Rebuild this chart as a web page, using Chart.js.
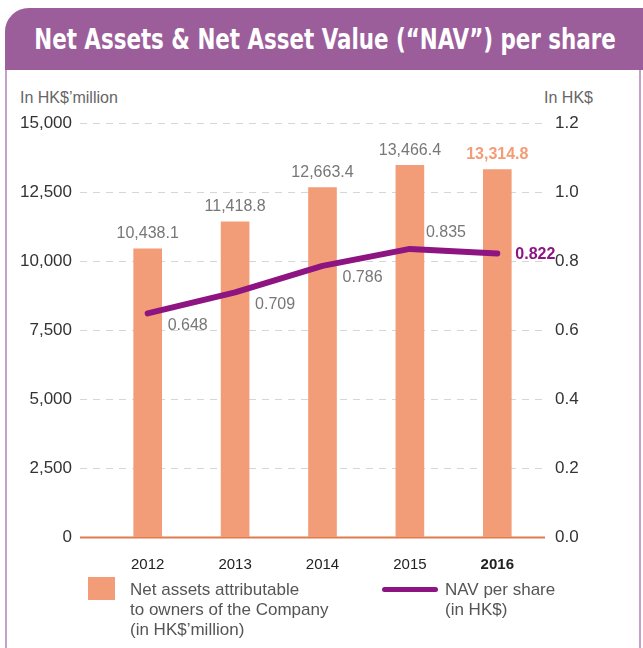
<!DOCTYPE html>
<html>
<head>
<meta charset="utf-8">
<script src="https://cdn.jsdelivr.net/npm/chart.js@4"></script>
<style>
  html, body { margin: 0; padding: 0; background: #fff; }
  body { width: 643px; height: 648px; position: relative; overflow: hidden;
         font-family: "Liberation Sans", Arial, sans-serif; }
  .frame { position: absolute; left: 5px; top: 8px; width: 632px; height: 660px;
           border: 2px solid #c79fcb; border-top: none; border-radius: 24px 0 0 0; }
  .head { position: absolute; left: 5px; top: 8px; width: 638px; height: 62px;
          background: #9c5e9b; border-radius: 24px 0 0 0; overflow: hidden; }
  .head span { position: absolute; left: 320px; top: 0; line-height: 62px; white-space: nowrap;
               color: #fff; font-family: "DejaVu Sans Condensed", "DejaVu Sans", sans-serif;
               font-weight: bold; font-size: 29px; transform: translateX(-50%) scaleX(0.82);
               transform-origin: center; }
  canvas { position: absolute; left: 0; top: 0; }
  .unit { position: absolute; top: 89px; font-size: 16px; color: #666; }
  .legend { position: absolute; font-size: 17px; color: #555; line-height: 20px; }
</style>
</head>
<body>
<div class="frame"></div>
<div class="head"><span>Net Assets &amp; Net Asset Value (“NAV”) per share</span></div>
<div class="unit" style="left:20px">In HK$’million</div>
<div class="unit" style="right:50px">In HK$</div>
<div style="width:643px;height:648px;position:absolute;left:0;top:0">
  <canvas id="c" width="643" height="648"></canvas>
</div>
<div class="legend" style="left:88px;top:577px;width:27px;height:23px;background:#f29d78"></div>
<div class="legend" style="left:130px;top:580px">Net assets attributable<br>to owners of the Company<br>(in HK$’million)</div>
<div class="legend" style="left:382px;top:587px;width:56px;height:5px;background:#8e1482;border-radius:3px"></div>
<div class="legend" style="left:445px;top:580px">NAV per share<br>(in HK$)</div>
<script>
const years = ['2012', '2013', '2014', '2015', '2016'];
const netAssets = [10438.1, 11418.8, 12663.4, 13466.4, 13314.8];
const navPerShare = [0.648, 0.709, 0.786, 0.835, 0.822];
const leftTicks = [0, 2500, 5000, 7500, 10000, 12500, 15000];
const rightTicks = [0.0, 0.2, 0.4, 0.6, 0.8, 1.0, 1.2];

const FONT = '"Liberation Sans", Arial, sans-serif';
const BAR = '#f29d78';
const NAV = '#8e1482';

const gridPlugin = {
  id: 'grid',
  beforeDatasetsDraw(chart) {
    const ctx = chart.ctx;
    const y = chart.scales.y;
    const x0 = chart.chartArea.left - 24, x1 = chart.chartArea.right + 4;
    ctx.save();
    leftTicks.forEach(v => {
      const py = Math.round(y.getPixelForValue(v)) + 0.5;
      ctx.beginPath();
      if (v === 0) {
        ctx.setLineDash([]);
        ctx.strokeStyle = '#e07b4e';
        ctx.lineWidth = 2;
      } else {
        ctx.setLineDash([7, 6]);
        ctx.strokeStyle = '#d6d6d6';
        ctx.lineWidth = 1;
      }
      ctx.moveTo(x0, py);
      ctx.lineTo(x1, py);
      ctx.stroke();
    });
    ctx.restore();
  }
};

const labelPlugin = {
  id: 'labels',
  afterDatasetsDraw(chart) {
    const ctx = chart.ctx;
    ctx.save();
    const bars = chart.getDatasetMeta(1).data;
    bars.forEach((b, i) => {
      const last = i === bars.length - 1;
      ctx.font = (last ? 'bold ' : '') + '16px ' + FONT;
      ctx.fillStyle = last ? '#f29d78' : '#777';
      ctx.textAlign = 'center';
      ctx.textBaseline = 'bottom';
      ctx.fillText(netAssets[i].toLocaleString('en-US', {minimumFractionDigits: 1}), b.x, b.y - 7);
    });
    const pts = chart.getDatasetMeta(0).data;
    pts.forEach((p, i) => {
      const last = i === pts.length - 1;
      ctx.font = (last ? 'bold ' : '') + '16px ' + FONT;
      ctx.fillStyle = last ? NAV : '#777';
      ctx.textAlign = 'left';
      ctx.textBaseline = 'middle';
      const txt = navPerShare[i].toFixed(3);
      if (last) ctx.fillText(txt, p.x + 18, p.y + 1);
      else if (i === 3) ctx.fillText(txt, p.x + 16, p.y - 16);
      else ctx.fillText(txt, p.x + 20, p.y + 12);
    });
    ctx.restore();
  }
};

new Chart(document.getElementById('c'), {
  data: {
    labels: years,
    datasets: [
      {
        type: 'line', label: 'NAV per share (in HK$)', data: navPerShare,
        yAxisID: 'y1', borderColor: NAV, borderWidth: 6, pointRadius: 0,
        borderCapStyle: 'round', borderJoinStyle: 'round', tension: 0, order: 0
      },
      {
        type: 'bar', label: 'Net assets attributable to owners of the Company (in HK$’million)',
        data: netAssets, yAxisID: 'y', backgroundColor: BAR,
        barThickness: 28, order: 1
      }
    ]
  },
  options: {
    responsive: false,
    animation: false,
    layout: { padding: { top: 123, left: 0, right: 0, bottom: 0 } },
    plugins: { legend: { display: false }, tooltip: { enabled: false } },
    scales: {
      x: {
        grid: { display: false }, border: { display: false },
        ticks: {
          padding: 11, color: '#222',
          font: ctx => ({ family: FONT, size: 15, weight: ctx.index === years.length - 1 ? 'bold' : 'normal' })
        },
        afterFit: s => { s.height = 111; }
      },
      y: {
        position: 'left', min: 0, max: 15000,
        afterBuildTicks: s => { s.ticks = leftTicks.map(v => ({ value: v })); },
        grid: { display: false, drawTicks: false }, border: { display: false },
        ticks: {
          padding: 32, color: '#333', font: { family: FONT, size: 17 },
          callback: v => v.toLocaleString('en-US')
        },
        afterFit: s => { s.width = 104; }
      },
      y1: {
        position: 'right', min: 0, max: 1.2,
        afterBuildTicks: s => { s.ticks = rightTicks.map(v => ({ value: v })); },
        grid: { display: false, drawTicks: false }, border: { display: false },
        ticks: {
          padding: 14, color: '#333', font: { family: FONT, size: 17 },
          callback: v => v.toFixed(1)
        },
        afterFit: s => { s.width = 102; }
      }
    }
  },
  plugins: [gridPlugin, labelPlugin]
});
</script>
</body>
</html>
